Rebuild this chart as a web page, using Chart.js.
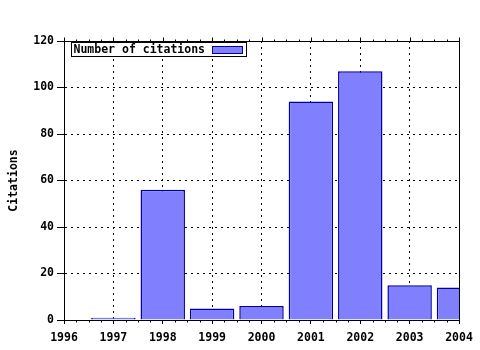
<!DOCTYPE html>
<html>
<head>
<meta charset="utf-8">
<script src="https://cdn.jsdelivr.net/npm/chart.js@4"></script>
<style>
  body { margin: 0; background: #fff; }
  canvas { display: block; }
</style>
</head>
<body>
<canvas id="grafico" width="480" height="350"></canvas>
<script>
const anos = [1997, 1998, 1999, 2000, 2001, 2002, 2003, 2004];
const citacoes = [1, 56, 5, 6, 94, 107, 15, 14];
const serieNome = "Number of citations";
const eixoY = "Citations";

const fonte = { family: "DejaVu Sans Mono", size: 11.5, weight: "bold" };

Chart.defaults.color = "#000";
Chart.defaults.font = fonte;

// moldura, ticks menores, ticks de cima e legenda
const extras = {
    id: "extras",
    afterDatasetsDraw(chart) {
        const { ctx, chartArea: a, scales } = chart;
        const x = scales.x;
        const top = Math.round(a.top) + 0.5;
        const bottom = Math.round(a.bottom) + 0.5;
        ctx.save();
        ctx.strokeStyle = "#000";
        ctx.lineWidth = 1;
        ctx.setLineDash([]);
        ctx.strokeRect(Math.round(a.left) + 0.5, top, Math.round(a.right) - Math.round(a.left), Math.round(a.bottom) - Math.round(a.top));

        ctx.beginPath();
        for (let v = x.min; v <= x.max + 0.001; v += 0.25) {
            const px = Math.round(x.getPixelForValue(v)) + 0.5;
            const major = Math.abs(v - Math.round(v)) < 0.001;
            const len = major ? 4 : 2;
            ctx.moveTo(px, top);
            ctx.lineTo(px, top - len);
            if (!major) {
                ctx.moveTo(px, bottom);
                ctx.lineTo(px, bottom + len);
            }
        }
        ctx.stroke();

        // legenda
        const ds = chart.data.datasets[0];
        const lx = Math.round(a.left) + 7.5, ly = Math.round(a.top) + 1.5;
        ctx.fillStyle = "#fff";
        ctx.fillRect(lx, ly, 175, 14);
        ctx.strokeRect(lx, ly, 175, 14);
        ctx.fillStyle = "#000";
        ctx.font = "bold 11.5px 'DejaVu Sans Mono'";
        ctx.textBaseline = "middle";
        ctx.fillText(ds.label, lx + 2, ly + 7.5);
        ctx.fillStyle = ds.backgroundColor;
        ctx.strokeStyle = ds.borderColor;
        ctx.fillRect(lx + 141, ly + 4, 30, 7);
        ctx.strokeRect(lx + 141, ly + 4, 30, 7);
        ctx.restore();
    }
};

new Chart(document.getElementById("grafico"), {
    type: "bar",
    data: {
        datasets: [{
            label: serieNome,
            data: anos.map((a, i) => ({ x: a, y: citacoes[i] })),
            backgroundColor: "#8080ff",
            borderColor: "#0000a0",
            borderWidth: 1.5,
            borderSkipped: "bottom",
            barPercentage: 0.9,
            categoryPercentage: 1,
            clip: 0
        }]
    },
    options: {
        responsive: false,
        animation: false,
        layout: { padding: { top: 41, right: 21, left: 0, bottom: 0 } },
        plugins: {
            legend: { display: false },
            tooltip: { enabled: false }
        },
        scales: {
            x: {
                type: "linear",
                min: 1996,
                max: 2004,
                offset: false,
                afterFit: s => { s.height = 30; },
                ticks: {
                    stepSize: 1,
                    padding: 7,
                    maxRotation: 0,
                    callback: v => String(v)
                },
                grid: {
                    offset: false,
                    color: "#000",
                    tickColor: "#000",
                    tickLength: 4,
                    tickBorderDash: []
                },
                border: { display: true, color: "#000", dash: [2, 4] }
            },
            y: {
                min: 0,
                max: 120,
                afterFit: s => { s.width = 64; },
                ticks: { stepSize: 20, padding: 3 },
                grid: {
                    color: "#000",
                    tickColor: "#000",
                    tickLength: 7,
                    tickBorderDash: []
                },
                border: { display: true, color: "#000", dash: [2, 4] },
                title: {
                    display: true,
                    text: eixoY,
                    padding: { top: 7, bottom: 0 }
                }
            }
        }
    },
    plugins: [extras]
});
</script>
</body>
</html>
